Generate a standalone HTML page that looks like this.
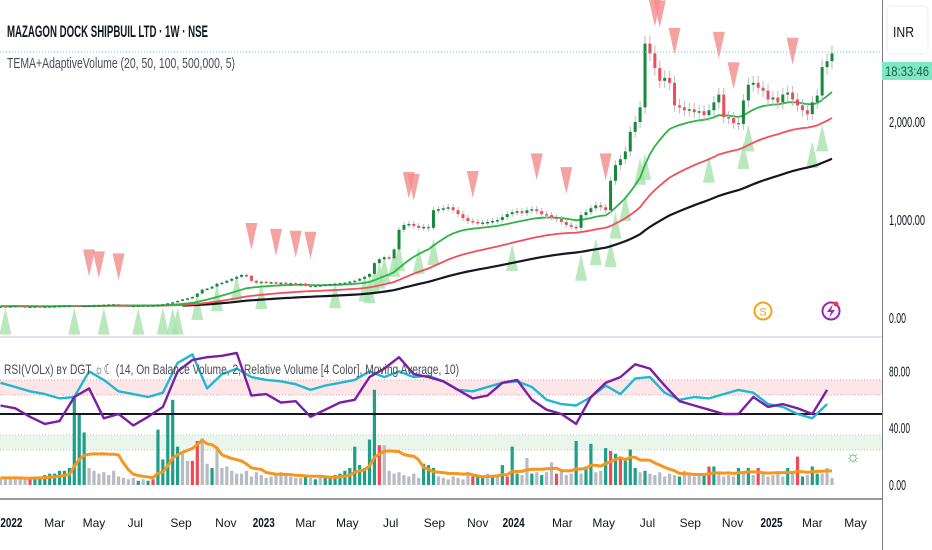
<!DOCTYPE html>
<html><head><meta charset="utf-8"><style>
html,body{margin:0;padding:0;background:#fff;width:932px;height:550px;overflow:hidden}
svg{display:block;font-family:"Liberation Sans","DejaVu Sans",sans-serif}
</style></head><body>
<svg id="chart" width="932" height="550" viewBox="0 0 932 550" xmlns="http://www.w3.org/2000/svg">
  <rect x="0" y="0" width="932" height="550" fill="#ffffff"/>
  <g id="lower-bands">
    <rect x="0" y="380" width="882" height="15" fill="#fde6e8"/>
    <line x1="0" y1="380" x2="882" y2="380" stroke="#f39aa2" stroke-dasharray="1,2"/>
    <line x1="0" y1="395" x2="882" y2="395" stroke="#f39aa2" stroke-dasharray="1,2"/>
    <rect x="0" y="435" width="882" height="15" fill="#eaf6ec"/>
    <line x1="0" y1="435" x2="882" y2="435" stroke="#9fd8a8" stroke-dasharray="1,2"/>
    <line x1="0" y1="450" x2="882" y2="450" stroke="#9fd8a8" stroke-dasharray="1,2"/>
  </g>
  <g id="main"></g>
  <g id="lower"></g>
  <line x1="0" y1="52" x2="882" y2="52" stroke="#5fd6b4" stroke-dasharray="1,2"/>
  <line x1="0" y1="337" x2="882" y2="337" stroke="#e0e3eb" stroke-width="2"/>
  <line x1="0" y1="499" x2="882" y2="499" stroke="#787b86" stroke-width="1.5"/>
  <line x1="882.5" y1="0" x2="882.5" y2="550" stroke="#787b86" stroke-width="1"/>
  <text x="7" y="37" font-size="17" font-weight="bold" fill="#131722" textLength="201" lengthAdjust="spacingAndGlyphs">MAZAGON DOCK SHIPBUIL LTD · 1W · NSE</text>
  <text x="7" y="68" font-size="15" fill="#4a4d57" textLength="228" lengthAdjust="spacingAndGlyphs">TEMA+AdaptiveVolume (20, 50, 100, 500,000, 5)</text>
  <text x="4" y="374" font-size="14" fill="#4a4d57" textLength="455" lengthAdjust="spacingAndGlyphs">RSI(VOLx) ʙʏ DGT ☼☾ (14, On Balance Volume, 2, Relative Volume [4 Color], Moving Average, 10)</text>
  <rect x="887" y="6" width="41" height="48" rx="4" fill="#fff" stroke="#eceef2"/>
  <text x="893" y="37" font-size="15" fill="#131722" textLength="21" lengthAdjust="spacingAndGlyphs">INR</text>
  <rect x="882" y="62" width="50" height="18" fill="#7ee8c4"/>
  <text x="885" y="76" font-size="14" fill="#1f5e4e" textLength="44" lengthAdjust="spacingAndGlyphs">18:33:46</text>
  <circle cx="763" cy="311" r="8.5" fill="none" stroke="#f7a21b" stroke-width="2"/>
  <text x="763" y="315.5" font-size="11" text-anchor="middle" fill="#f7a21b">S</text>
  <circle cx="831" cy="311" r="8.5" fill="none" stroke="#9c27b0" stroke-width="2"/>
  <path d="M833 304 L827 312 L831 312 L829 318 L835 310 L831 310 Z" fill="#9c27b0"/>
  <circle cx="836" cy="304" r="2.5" fill="#f23645"/>
  <text x="853" y="462" font-size="17" text-anchor="middle" fill="#4caf50">☼</text>
  <g id="axes"></g>
</svg>
<script>
const NS = "http://www.w3.org/2000/svg";
// ---- price data (weekly closes) ----
const closes = [120,118,122,125,120,115,118,120,117,119,121,122,125,128,130,127,124,126,128,130,132,135,138,140,135,128,125,126,128,130,130,
130,135,140,150,160,175,190,200,215,250,290,300,320,350,360,380,400,420,440,430,380,360,370,
360,365,355,360,350,355,345,350,330,325,330,335,340,345,350,355,360,370,380,400,420,450,560,600,620,610,700,900,950,960,940,920,930,920,1100,1110,1120,1130,1100,1060,1020,990,980,970,975,980,990,1000,1030,1060,1080,1090,1070,1100,1110,1090,1060,1050,1030,1010,980,950,930,920,1050,1080,1120,1150,1130,1100,1400,1560,1620,1700,1900,2000,2150,2800,2700,2550,2420,2450,2400,2170,2150,2120,2130,2100,2110,2070,2120,2200,2280,2050,2040,1990,1980,2220,2380,2400,2350,2320,2230,2250,2200,2280,2300,2230,2170,2120,2080,2200,2270,2560,2620,2700];
const sellIdx = [18,20,24,51,56,60,63,83,84,96,109,115,123,133,134,137,146,149,161];
const sellPrice = [700,680,660,970,910,890,880,1490,1470,1500,1680,1540,1680,3250,3240,2960,2920,2610,2860];
const buyIdx = [1,15,21,28,33,35,36,40,44,48,53,68,74,75,76,77,78,80,81,85,88,104,118,121,124,125,127,130,131,144,151,152,165,167];
const buyPrice = [-170,-170,-170,-170,-170,-170,-170,-20,70,170,90,100,170,150,250,300,360,420,480,450,540,480,380,540,520,810,990,1360,1410,1380,1520,1700,1530,1700];
// ---- indicator data ----
const rsiIdx = [0,3,6,9,12,15,18,21,24,27,30,33,36,39,42,45,48,51,54,57,60,63,66,69,72,75,78,81,84,87,90,93,96,99,102,105,108,111,114,117,120,123,126,129,132,135,138,141,144,147,150,153,156,159,162,165,168];
const rsiCyan = [72,69,66,64,61,62,80,74,66,64,62,65,86,92,68,78,82,76,74,73,71,67,70,72,74,80,76,80,76,77,73,67,66,69,72,73,69,60,57,56,62,70,64,75,76,65,60,62,61,64,67,65,57,55,50,47,57];
const rsiPurple = [56,54,48,43,45,62,68,47,50,42,48,55,80,88,90,91,93,63,64,58,59,48,53,58,60,76,82,90,78,76,73,67,61,63,72,74,60,53,50,43,62,72,76,85,82,70,59,56,53,50,50,62,55,57,54,50,67];
const volumes = [5,5,5,5,5,4,4,6,6,7,8,8,10,10,12,62,50,37,12,10,8,9,7,10,6,5,4,5,3,4,3,4,39,18,50,60,27,22,17,17,31,33,15,12,27,12,13,10,8,8,10,6,9,7,5,6,8,9,7,6,5,5,6,5,4,6,5,6,7,8,10,12,27,14,12,32,67,28,28,10,8,9,7,6,8,5,15,14,12,6,5,4,6,5,4,9,6,7,6,8,7,6,14,6,27,8,7,19,8,9,7,9,16,8,10,7,8,31,8,13,29,9,10,26,24,22,20,18,25,12,9,10,8,7,9,6,8,7,6,10,7,6,8,7,13,13,8,6,7,6,12,8,12,7,12,8,6,7,9,6,12,8,20,6,7,13,8,8,12,5];
const volColors = "ggggggrtttttttttttggggggggggtgtrtttttggrrggtggggggggggggggggggtgtgtttttttttttrggggggggtttgggggggrttgtgtrttggtgtggrgggtgttggtrtrtttgtggggggtggggtrtggggtgtgrgggggtgrtgttg";
const tickIdx = [2.2,11,19,27.4,36.7,45.8,53.5,62,70.5,79.3,88.2,97,104.3,114.2,122.6,131.5,140.2,148.8,156.7,165,173.8];
const tickLabels = ["2022","Mar","May","Jul","Sep","Nov","2023","Mar","May","Jul","Sep","Nov","2024","Mar","May","Jul","Sep","Nov","2025","Mar","May"];
const priceTicks = [2000,1000,0];
const rsiTicks = [80,40,0];

// ---- axis functions ----
const BAR = 4.92;
const xs = i => 0.5 + i * BAR;
const yp = p => 318 - p * 0.098;
const yl = v => 485 - v * 1.42;

const main = document.getElementById('main');
const lower = document.getElementById('lower');
const axes = document.getElementById('axes');
function mk(tag, attrs, parent){ const e=document.createElementNS(NS,tag); for(const k in attrs) e.setAttribute(k,attrs[k]); parent.appendChild(e); return e; }

function ema(arr, n){ const k=2/(n+1); const out=[]; let e=arr[0]; arr.forEach((v,i)=>{ e = i===0? v : v*k + e*(1-k); out.push(e);}); return out; }
const e20 = ema(closes,20), e50 = ema(closes,50), e100 = ema(closes,100);

sellIdx.forEach((ix,j)=>{
  const x=xs(ix), y=yp(sellPrice[j]);
  const t=mk('polygon',{points:`${x-6},${y} ${x+6},${y} ${x},${y+27}`,fill:'#f28b8b','fill-opacity':'0.8'},main);
  
  
});
buyIdx.forEach((ix,j)=>{
  const x=xs(ix), y=yp(buyPrice[j]);
  const t=mk('polygon',{points:`${x-6},${y} ${x+6},${y} ${x},${y-27}`,fill:'#a8e2ad','fill-opacity':'0.8'},main);
  
  
});
function line(arr, color, start, name, w){
  let d=''; for(let i=start;i<arr.length;i++){ d+=(i===start?'M':'L')+xs(i).toFixed(1)+' '+yp(arr[i]).toFixed(1)+' '; }
  const p=mk('path',{d:d,fill:'none',stroke:color,'stroke-width':w},main);
  
  
}
line(e100,'#131722',37,'tema-100-line',2.2);
line(e50,'#f0505c',0,'tema-50-line',1.8);
line(e20,'#2fb344',0,'tema-20-line',1.8);
closes.forEach((c,i)=>{
  const o = i===0 ? c : closes[i-1];
  const hi = Math.max(o,c)*1.03, lo = Math.min(o,c)*0.97;
  const up = c>=o; const col = up ? '#168a3c' : '#ee4d5a';
  const x = xs(i);
  const w=mk('line',{x1:x,x2:x,y1:yp(hi),y2:yp(lo),stroke:'#b8bcc6','stroke-width':1},main);
  
  
  const top=yp(Math.max(o,c)), bot=yp(Math.min(o,c));
  const b=mk('rect',{x:x-1.5,y:top,width:3,height:Math.max(1.5,bot-top),fill:col},main);
  
  
});

const colMap = {g:'#b8bbc3',t:'#1f9e89',r:'#f04b55'};
volumes.forEach((v,i)=>{
  const x=xs(i);
  const r=mk('rect',{x:x-1.6,y:yl(v),width:3.2,height:485-yl(v),fill:colMap[volColors[i]||'g']},lower);
  
  
});
let dma='';
volumes.forEach((v,i)=>{ const s=volumes.slice(Math.max(0,i-9),i+1); const m=s.reduce((a,b)=>a+b,0)/s.length; dma+=(i===0?'M':'L')+xs(i).toFixed(1)+' '+yl(m).toFixed(1)+' '; });
const ma=mk('path',{d:dma,fill:'none',stroke:'#f7961e','stroke-width':3,'stroke-linejoin':'round'},lower);


const mid=mk('line',{x1:0,x2:882,y1:yl(50),y2:yl(50),stroke:'#131722','stroke-width':2},lower);


function rline(vals,color,name){
  let d=''; vals.forEach((v,j)=>{ d+=(j===0?'M':'L')+xs(rsiIdx[j]).toFixed(1)+' '+yl(v).toFixed(1)+' '; });
  const p=mk('path',{d:d,fill:'none',stroke:color,'stroke-width':2.4,'stroke-linejoin':'round'},lower);
  
  
}
rline(rsiCyan,'#1fb8d0','obv-rsi-line');
rline(rsiPurple,'#7b1fa2','rsi-line');

tickLabels.forEach((l,j)=>{
  const yr=/^\d{4}$/.test(l);
  const attrs={x:xs(tickIdx[j]),y:527,'font-size':yr?13:12,'text-anchor':'middle',fill:'#131722','font-weight':yr?'bold':'normal'};
  if(yr){ attrs.textLength='22'; attrs.lengthAdjust='spacingAndGlyphs'; }
  const t=mk('text',attrs,axes);
  t.textContent=l;
  
  
});
priceTicks.forEach(p=>{
  const t=mk('text',{x:889,y:yp(p)+5,'font-size':15,fill:'#131722',textLength:p?36:17,lengthAdjust:'spacingAndGlyphs'},axes);
  t.textContent=p.toLocaleString('en-US',{minimumFractionDigits:2});
  
  
});
rsiTicks.forEach(v=>{
  const t=mk('text',{x:889,y:yl(v)+5,'font-size':15,fill:'#131722',textLength:v?21:17,lengthAdjust:'spacingAndGlyphs'},axes);
  t.textContent=v.toFixed(2);
  
  
});
</script>
</body></html>
